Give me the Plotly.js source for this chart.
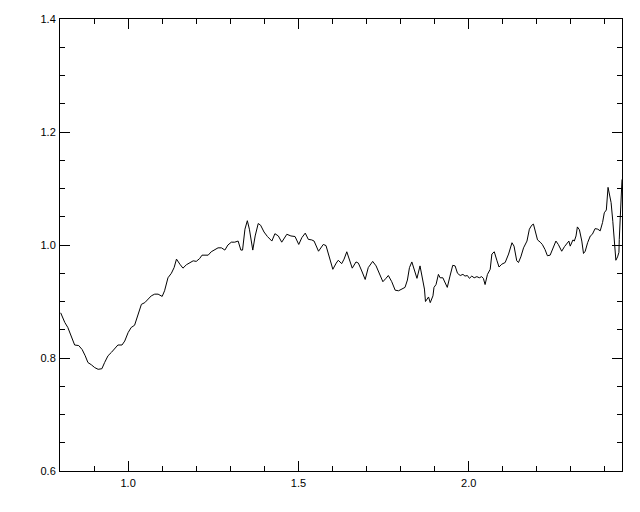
<!DOCTYPE html>
<html>
<head>
<meta charset="utf-8">
<script src="https://cdn.plot.ly/plotly-3.0.1.min.js"></script>
<style>html,body{margin:0;padding:0;background:#fff;}#chart{width:640px;height:512px;}</style>
</head>
<body>
<div id="chart"></div>
<script>
const xVals = [0.802,0.814,0.823,0.833,0.843,0.855,0.865,0.874,0.882,0.892,0.902,0.912,0.923,0.931,0.941,0.951,0.961,0.970,0.982,0.990,
1.000,1.009,1.019,1.029,1.039,1.049,1.058,1.068,1.078,1.088,1.100,1.107,1.117,1.127,1.135,1.142,1.152,1.161,1.171,1.181,
1.191,1.200,1.210,1.217,1.227,1.235,1.244,1.254,1.264,1.274,1.284,1.293,1.303,1.313,1.323,1.331,1.336,1.343,1.350,1.356,
1.366,1.373,1.382,1.389,1.399,1.409,1.422,1.431,1.441,1.451,1.466,1.478,1.490,1.501,1.510,1.520,1.529,1.539,1.546,1.559,
1.566,1.573,1.581,1.591,1.601,1.611,1.617,1.627,1.634,1.642,1.650,1.658,1.669,1.676,1.686,1.696,1.705,1.718,1.728,1.738,
1.748,1.757,1.764,1.774,1.784,1.794,1.804,1.813,1.820,1.826,1.833,1.840,1.848,1.857,1.864,1.870,1.873,1.882,1.887,1.895,
1.898,1.904,1.911,1.916,1.924,1.931,1.937,1.945,1.953,1.960,1.967,1.975,1.983,1.989,1.996,2.002,2.009,2.016,2.024,2.031,
2.038,2.043,2.048,2.055,2.063,2.068,2.075,2.083,2.089,2.097,2.107,2.117,2.127,2.133,2.141,2.146,2.153,2.161,2.171,2.178,
2.185,2.190,2.195,2.202,2.210,2.216,2.224,2.231,2.239,2.247,2.256,2.263,2.273,2.281,2.288,2.294,2.298,2.306,2.310,2.315,
2.319,2.325,2.332,2.337,2.342,2.349,2.357,2.363,2.371,2.379,2.386,2.393,2.398,2.404,2.409,2.412,2.418,2.423,2.427,2.432,
2.437,2.441,2.442,2.445,2.447,2.450];
const yVals = [0.880,0.863,0.854,0.839,0.823,0.822,0.815,0.804,0.792,0.788,0.783,0.780,0.781,0.792,0.804,0.810,0.818,0.823,0.823,0.830,
0.845,0.854,0.858,0.877,0.895,0.898,0.904,0.910,0.913,0.913,0.909,0.919,0.942,0.950,0.960,0.975,0.966,0.959,0.965,0.969,
0.972,0.971,0.976,0.982,0.982,0.982,0.988,0.992,0.995,0.995,0.991,1.000,1.005,1.005,1.007,0.991,0.991,1.028,1.043,1.028,
0.991,1.016,1.038,1.035,1.023,1.015,1.007,1.020,1.016,1.005,1.019,1.016,1.015,1.001,1.013,1.021,1.010,1.009,1.007,0.989,
0.995,1.001,0.999,0.978,0.957,0.968,0.973,0.967,0.975,0.988,0.972,0.959,0.970,0.968,0.954,0.939,0.960,0.971,0.963,0.948,
0.935,0.941,0.946,0.935,0.920,0.919,0.922,0.925,0.938,0.960,0.970,0.955,0.941,0.963,0.942,0.922,0.900,0.908,0.898,0.910,
0.925,0.930,0.948,0.942,0.942,0.933,0.925,0.945,0.964,0.963,0.950,0.946,0.948,0.945,0.946,0.941,0.945,0.942,0.944,0.942,
0.944,0.941,0.930,0.948,0.957,0.984,0.988,0.972,0.961,0.966,0.969,0.984,1.004,0.998,0.972,0.969,0.979,0.995,1.007,1.028,
1.035,1.037,1.025,1.009,1.005,1.001,0.992,0.981,0.982,0.995,1.007,1.001,0.989,0.997,1.003,1.007,0.998,1.009,1.007,1.016,
1.032,1.027,1.007,0.985,0.989,1.004,1.016,1.019,1.029,1.028,1.025,1.040,1.057,1.062,1.102,1.093,1.075,1.042,1.007,0.973,
0.979,0.987,1.010,1.051,1.099,1.116];
const xTickVals = [1.0, 1.5, 2.0];
const xTickText = ['1.0', '1.5', '2.0'];
const yTickVals = [0.6, 0.8, 1.0, 1.2, 1.4];
const yTickText = ['0.6', '0.8', '1.0', '1.2', '1.4'];

const axisCommon = {
  showline: true, linecolor: '#000', linewidth: 1, mirror: 'ticks',
  ticks: 'inside', ticklen: 10, tickwidth: 1, tickcolor: '#000',
  showgrid: false, zeroline: false,
  tickfont: {family: 'Liberation Sans, Arial, sans-serif', size: 11, color: '#000'}
};
const layout = {
  width: 640, height: 512,
  margin: {l: 60, r: 18, t: 19, b: 41},
  paper_bgcolor: '#fff', plot_bgcolor: '#fff',
  showlegend: false,
  xaxis: Object.assign({}, axisCommon, {
    range: [0.8, 2.45], tickmode: 'array', tickvals: xTickVals, ticktext: xTickText,
    ticklabelstandoff: 2,
    minor: {dtick: 0.1, tick0: 0, ticks: 'inside', ticklen: 5, tickwidth: 1, tickcolor: '#000', showgrid: false}
  }),
  yaxis: Object.assign({}, axisCommon, {
    range: [0.6, 1.4], tickmode: 'array', tickvals: yTickVals, ticktext: yTickText,
    ticklabelstandoff: 1,
    minor: {dtick: 0.05, tick0: 0, ticks: 'inside', ticklen: 5, tickwidth: 1, tickcolor: '#000', showgrid: false}
  })
};
Plotly.newPlot('chart', [{
  x: xVals, y: yVals, type: 'scatter', mode: 'lines',
  line: {color: '#000', width: 1}
}], layout, {staticPlot: true});
</script>
</body>
</html>
